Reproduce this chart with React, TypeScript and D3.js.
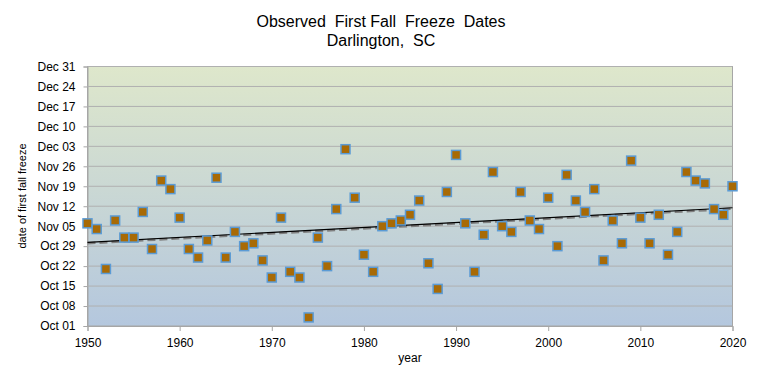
import React, { useEffect, useRef } from "react";
import * as d3 from "d3";

// chart size
const WIDTH = 762;
const HEIGHT = 385;
const MARGIN = { top: 66.5, right: 29.5, bottom: 59, left: 87.5 };

// years of observation
const years: number[] = [
  1950, 1951, 1952, 1953, 1954, 1955, 1956, 1957, 1958, 1959,
  1960, 1961, 1962, 1963, 1964, 1965, 1966, 1967, 1968, 1969,
  1970, 1971, 1972, 1973, 1974, 1975, 1976, 1977, 1978, 1979,
  1980, 1981, 1982, 1983, 1984, 1985, 1986, 1987, 1988, 1989,
  1990, 1991, 1992, 1993, 1994, 1995, 1996, 1997, 1998, 1999,
  2000, 2001, 2002, 2003, 2004, 2005, 2006, 2007, 2008, 2009,
  2010, 2011, 2012, 2013, 2014, 2015, 2016, 2017, 2018, 2019,
  2020,
];

// first fall freeze date, one per year
const freezeDates: string[] = [
  "Nov 06", "Nov 04", "Oct 21", "Nov 07", "Nov 01", "Nov 01", "Nov 10", "Oct 28", "Nov 21", "Nov 18",
  "Nov 08", "Oct 28", "Oct 25", "Oct 31", "Nov 22", "Oct 25", "Nov 03", "Oct 29", "Oct 30", "Oct 24",
  "Oct 18", "Nov 08", "Oct 20", "Oct 18", "Oct 04", "Nov 01", "Oct 22", "Nov 11", "Dec 02", "Nov 15",
  "Oct 26", "Oct 20", "Nov 05", "Nov 06", "Nov 07", "Nov 09", "Nov 14", "Oct 23", "Oct 14", "Nov 17",
  "Nov 30", "Nov 06", "Oct 20", "Nov 02", "Nov 24", "Nov 05", "Nov 03", "Nov 17", "Nov 07", "Nov 04",
  "Nov 15", "Oct 29", "Nov 23", "Nov 14", "Nov 10", "Nov 18", "Oct 24", "Nov 07", "Oct 30", "Nov 28",
  "Nov 08", "Oct 30", "Nov 09", "Oct 26", "Nov 03", "Nov 24", "Nov 21", "Nov 20", "Nov 11", "Nov 09",
  "Nov 19",
];

// axis ranges
const xTicks: number[] = [1950, 1960, 1970, 1980, 1990, 2000, 2010, 2020];
const yStart = "Oct 01";
const yEnd = "Dec 31";

const App: React.FC = () => {
  const ref = useRef<SVGSVGElement | null>(null);

  useEffect(() => {
    if (!ref.current) return;
    const svg = d3.select(ref.current);
    svg.selectAll("*").remove();

    const parse = (s: string) => d3.timeParse("%Y %b %d")("2001 " + s) as Date;
    const innerW = WIDTH - MARGIN.left - MARGIN.right;
    const innerH = HEIGHT - MARGIN.top - MARGIN.bottom;

    const x = d3.scaleLinear().domain([1950, 2020]).range([0, innerW]);
    const y = d3.scaleTime().domain([parse(yStart), parse(yEnd)]).range([innerH, 0]);

    const data = years.map((yr, i) => ({ year: yr, date: parse(freezeDates[i]) }));

    // gradient background
    const defs = svg.append("defs");
    const grad = defs
      .append("linearGradient")
      .attr("id", "bg")
      .attr("x1", 0)
      .attr("y1", 0)
      .attr("x2", 0)
      .attr("y2", 1);
    grad.append("stop").attr("offset", "0%").attr("stop-color", "#dee7cb");
    grad.append("stop").attr("offset", "100%").attr("stop-color", "#b4c7de");

    const g = svg.append("g").attr("transform", `translate(${MARGIN.left},${MARGIN.top})`);

    g.append("rect")
      .attr("width", innerW)
      .attr("height", innerH)
      .attr("fill", "url(#bg)")
      .attr("stroke", "#a6a6a6")
      .attr("stroke-width", 1);

    // gridlines + y axis
    const yTicks = d3.timeDay.range(parse(yStart), d3.timeDay.offset(parse(yEnd), 1), 7);
    const yAxis = d3
      .axisLeft(y)
      .tickValues(yTicks)
      .tickFormat((d) => d3.timeFormat("%b %d")(d as Date))
      .tickSize(4)
      .tickPadding(8);
    const ya = g.append("g").call(yAxis);
    ya.select(".domain").attr("stroke", "#a6a6a6");
    ya.selectAll(".tick line").attr("stroke", "#a6a6a6");
    ya.selectAll(".tick text")
      .attr("fill", "#000")
      .style("font-family", "'Liberation Sans', Arial, sans-serif")
      .style("font-size", "12px");

    g.append("g")
      .selectAll("line")
      .data(yTicks.slice(1))
      .enter()
      .append("line")
      .attr("x1", 0)
      .attr("x2", innerW)
      .attr("y1", (d) => y(d))
      .attr("y2", (d) => y(d))
      .attr("stroke", "#b0b0b0")
      .attr("stroke-width", 1);

    // x axis
    const xAxis = d3
      .axisBottom(x)
      .tickValues(xTicks)
      .tickFormat(d3.format("d"))
      .tickSize(5)
      .tickPadding(7);
    const xa = g.append("g").attr("transform", `translate(0,${innerH})`).call(xAxis);
    xa.select(".domain").attr("stroke", "#a6a6a6");
    xa.selectAll(".tick line").attr("stroke", "#a6a6a6");
    xa.selectAll(".tick text")
      .attr("fill", "#000")
      .style("font-family", "'Liberation Sans', Arial, sans-serif")
      .style("font-size", "12px");

    // linear trend
    const t0 = parse(yStart).getTime();
    const pts = data.map((d) => [d.year, (d.date.getTime() - t0) / 864e5]);
    const mx = d3.mean(pts, (p) => p[0]) as number;
    const my = d3.mean(pts, (p) => p[1]) as number;
    const slope =
      (d3.sum(pts, (p) => (p[0] - mx) * (p[1] - my)) as number) /
      (d3.sum(pts, (p) => (p[0] - mx) ** 2) as number);
    const trendAt = (yr: number) => d3.timeDay.offset(parse(yStart), 0).getTime() + (my + slope * (yr - mx)) * 864e5;
    const trend = [1950, 2020].map((yr) => ({ year: yr, date: new Date(trendAt(yr)) }));
    const line = d3
      .line<{ year: number; date: Date }>()
      .x((d) => x(d.year))
      .y((d) => y(d.date));

    g.append("path")
      .datum(trend)
      .attr("d", line)
      .attr("transform", "translate(0,1)")
      .attr("fill", "none")
      .attr("stroke", "#7f7f7f")
      .attr("stroke-width", 2.5)
      .attr("stroke-dasharray", "8,4");
    g.append("path")
      .datum(trend)
      .attr("d", line)
      .attr("fill", "none")
      .attr("stroke", "#000")
      .attr("stroke-width", 1.2);

    // markers
    const s = 9;
    g.append("g")
      .selectAll("rect")
      .data(data)
      .enter()
      .append("rect")
      .attr("x", (d) => x(d.year) - s / 2)
      .attr("y", (d) => y(d.date) - s / 2)
      .attr("width", s)
      .attr("height", s)
      .attr("fill", "#a86a05")
      .attr("stroke", "#5b9bd5")
      .attr("stroke-width", 1.5);

    // titles
    const font = "'Liberation Sans', Arial, sans-serif";
    svg.append("text")
      .attr("x", 381)
      .attr("y", 27)
      .attr("text-anchor", "middle")
      .style("font-family", font)
      .style("font-size", "16px")
      .style("white-space", "pre")
      .text("Observed  First Fall  Freeze  Dates");
    svg.append("text")
      .attr("x", 381)
      .attr("y", 46)
      .attr("text-anchor", "middle")
      .style("font-family", font)
      .style("font-size", "16px")
      .style("white-space", "pre")
      .text("Darlington,  SC");

    svg.append("text")
      .attr("x", MARGIN.left + innerW / 2)
      .attr("y", 362)
      .attr("text-anchor", "middle")
      .style("font-family", font)
      .style("font-size", "12px")
      .text("year");

    svg.append("text")
      .attr("transform", "translate(26,196) rotate(-90)")
      .attr("text-anchor", "middle")
      .style("font-family", font)
      .style("font-size", "11px")
      .text("date of first fall freeze");
  }, []);

  return (
    <div style={{ position: "absolute", left: 0, top: 0 }}>
      <svg ref={ref} width={WIDTH} height={HEIGHT} style={{ display: "block", background: "#fff" }} />
    </div>
  );
};

export default App;
